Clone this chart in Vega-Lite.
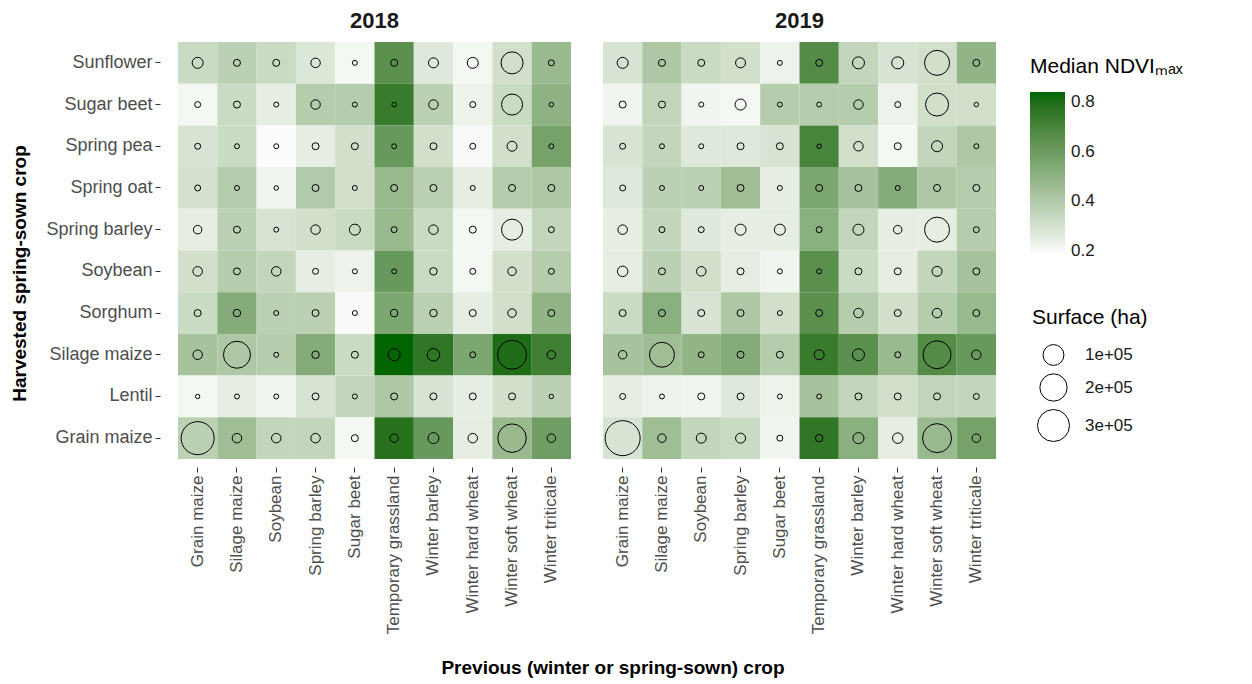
{
"$schema": "https://vega.github.io/schema/vega-lite/v6.json",
"background": "white",
"padding": {"left": 10, "top": 10, "right": 5, "bottom": 5},
"data": {"values": [
{"year":"2018","harvested":"Sunflower","previous":"Grain maize","ndvi":0.33,"surface":17800},
{"year":"2018","harvested":"Sunflower","previous":"Silage maize","ndvi":0.37,"surface":4200},
{"year":"2018","harvested":"Sunflower","previous":"Soybean","ndvi":0.33,"surface":4200},
{"year":"2018","harvested":"Sunflower","previous":"Spring barley","ndvi":0.28,"surface":11500},
{"year":"2018","harvested":"Sunflower","previous":"Sugar beet","ndvi":0.21,"surface":800},
{"year":"2018","harvested":"Sunflower","previous":"Temporary grassland","ndvi":0.65,"surface":4200},
{"year":"2018","harvested":"Sunflower","previous":"Winter barley","ndvi":0.27,"surface":13400},
{"year":"2018","harvested":"Sunflower","previous":"Winter hard wheat","ndvi":0.21,"surface":17800},
{"year":"2018","harvested":"Sunflower","previous":"Winter soft wheat","ndvi":0.31,"surface":115000},
{"year":"2018","harvested":"Sunflower","previous":"Winter triticale","ndvi":0.47,"surface":2200},
{"year":"2018","harvested":"Sugar beet","previous":"Grain maize","ndvi":0.21,"surface":2200},
{"year":"2018","harvested":"Sugar beet","previous":"Silage maize","ndvi":0.33,"surface":4200},
{"year":"2018","harvested":"Sugar beet","previous":"Soybean","ndvi":0.25,"surface":800},
{"year":"2018","harvested":"Sugar beet","previous":"Spring barley","ndvi":0.39,"surface":11500},
{"year":"2018","harvested":"Sugar beet","previous":"Sugar beet","ndvi":0.39,"surface":800},
{"year":"2018","harvested":"Sugar beet","previous":"Temporary grassland","ndvi":0.74,"surface":320},
{"year":"2018","harvested":"Sugar beet","previous":"Winter barley","ndvi":0.37,"surface":11500},
{"year":"2018","harvested":"Sugar beet","previous":"Winter hard wheat","ndvi":0.23,"surface":2200},
{"year":"2018","harvested":"Sugar beet","previous":"Winter soft wheat","ndvi":0.33,"surface":102000},
{"year":"2018","harvested":"Sugar beet","previous":"Winter triticale","ndvi":0.50,"surface":320},
{"year":"2018","harvested":"Spring pea","previous":"Grain maize","ndvi":0.29,"surface":2200},
{"year":"2018","harvested":"Spring pea","previous":"Silage maize","ndvi":0.33,"surface":800},
{"year":"2018","harvested":"Spring pea","previous":"Soybean","ndvi":0.19,"surface":800},
{"year":"2018","harvested":"Spring pea","previous":"Spring barley","ndvi":0.25,"surface":4200},
{"year":"2018","harvested":"Spring pea","previous":"Sugar beet","ndvi":0.31,"surface":4200},
{"year":"2018","harvested":"Spring pea","previous":"Temporary grassland","ndvi":0.61,"surface":800},
{"year":"2018","harvested":"Spring pea","previous":"Winter barley","ndvi":0.31,"surface":4200},
{"year":"2018","harvested":"Spring pea","previous":"Winter hard wheat","ndvi":0.20,"surface":2200},
{"year":"2018","harvested":"Spring pea","previous":"Winter soft wheat","ndvi":0.31,"surface":13400},
{"year":"2018","harvested":"Spring pea","previous":"Winter triticale","ndvi":0.57,"surface":800},
{"year":"2018","harvested":"Spring oat","previous":"Grain maize","ndvi":0.30,"surface":2200},
{"year":"2018","harvested":"Spring oat","previous":"Silage maize","ndvi":0.39,"surface":800},
{"year":"2018","harvested":"Spring oat","previous":"Soybean","ndvi":0.22,"surface":320},
{"year":"2018","harvested":"Spring oat","previous":"Spring barley","ndvi":0.40,"surface":4200},
{"year":"2018","harvested":"Spring oat","previous":"Sugar beet","ndvi":0.31,"surface":800},
{"year":"2018","harvested":"Spring oat","previous":"Temporary grassland","ndvi":0.47,"surface":4200},
{"year":"2018","harvested":"Spring oat","previous":"Winter barley","ndvi":0.37,"surface":4200},
{"year":"2018","harvested":"Spring oat","previous":"Winter hard wheat","ndvi":0.25,"surface":800},
{"year":"2018","harvested":"Spring oat","previous":"Winter soft wheat","ndvi":0.39,"surface":4200},
{"year":"2018","harvested":"Spring oat","previous":"Winter triticale","ndvi":0.41,"surface":4200},
{"year":"2018","harvested":"Spring barley","previous":"Grain maize","ndvi":0.25,"surface":8100},
{"year":"2018","harvested":"Spring barley","previous":"Silage maize","ndvi":0.37,"surface":4200},
{"year":"2018","harvested":"Spring barley","previous":"Soybean","ndvi":0.29,"surface":800},
{"year":"2018","harvested":"Spring barley","previous":"Spring barley","ndvi":0.31,"surface":11500},
{"year":"2018","harvested":"Spring barley","previous":"Sugar beet","ndvi":0.33,"surface":17800},
{"year":"2018","harvested":"Spring barley","previous":"Temporary grassland","ndvi":0.47,"surface":2200},
{"year":"2018","harvested":"Spring barley","previous":"Winter barley","ndvi":0.33,"surface":11500},
{"year":"2018","harvested":"Spring barley","previous":"Winter hard wheat","ndvi":0.21,"surface":4200},
{"year":"2018","harvested":"Spring barley","previous":"Winter soft wheat","ndvi":0.25,"surface":102000},
{"year":"2018","harvested":"Spring barley","previous":"Winter triticale","ndvi":0.35,"surface":2200},
{"year":"2018","harvested":"Soybean","previous":"Grain maize","ndvi":0.31,"surface":11500},
{"year":"2018","harvested":"Soybean","previous":"Silage maize","ndvi":0.39,"surface":4200},
{"year":"2018","harvested":"Soybean","previous":"Soybean","ndvi":0.35,"surface":11500},
{"year":"2018","harvested":"Soybean","previous":"Spring barley","ndvi":0.25,"surface":2200},
{"year":"2018","harvested":"Soybean","previous":"Sugar beet","ndvi":0.23,"surface":800},
{"year":"2018","harvested":"Soybean","previous":"Temporary grassland","ndvi":0.61,"surface":800},
{"year":"2018","harvested":"Soybean","previous":"Winter barley","ndvi":0.33,"surface":5400},
{"year":"2018","harvested":"Soybean","previous":"Winter hard wheat","ndvi":0.21,"surface":2200},
{"year":"2018","harvested":"Soybean","previous":"Winter soft wheat","ndvi":0.31,"surface":8100},
{"year":"2018","harvested":"Soybean","previous":"Winter triticale","ndvi":0.39,"surface":2200},
{"year":"2018","harvested":"Sorghum","previous":"Grain maize","ndvi":0.33,"surface":4200},
{"year":"2018","harvested":"Sorghum","previous":"Silage maize","ndvi":0.53,"surface":5400},
{"year":"2018","harvested":"Sorghum","previous":"Soybean","ndvi":0.37,"surface":800},
{"year":"2018","harvested":"Sorghum","previous":"Spring barley","ndvi":0.37,"surface":4200},
{"year":"2018","harvested":"Sorghum","previous":"Sugar beet","ndvi":0.20,"surface":800},
{"year":"2018","harvested":"Sorghum","previous":"Temporary grassland","ndvi":0.55,"surface":5400},
{"year":"2018","harvested":"Sorghum","previous":"Winter barley","ndvi":0.37,"surface":5400},
{"year":"2018","harvested":"Sorghum","previous":"Winter hard wheat","ndvi":0.25,"surface":4200},
{"year":"2018","harvested":"Sorghum","previous":"Winter soft wheat","ndvi":0.31,"surface":8100},
{"year":"2018","harvested":"Sorghum","previous":"Winter triticale","ndvi":0.49,"surface":4200},
{"year":"2018","harvested":"Silage maize","previous":"Grain maize","ndvi":0.43,"surface":11500},
{"year":"2018","harvested":"Silage maize","previous":"Silage maize","ndvi":0.41,"surface":195000},
{"year":"2018","harvested":"Silage maize","previous":"Soybean","ndvi":0.39,"surface":800},
{"year":"2018","harvested":"Silage maize","previous":"Spring barley","ndvi":0.53,"surface":5400},
{"year":"2018","harvested":"Silage maize","previous":"Sugar beet","ndvi":0.33,"surface":4200},
{"year":"2018","harvested":"Silage maize","previous":"Temporary grassland","ndvi":0.84,"surface":22800},
{"year":"2018","harvested":"Silage maize","previous":"Winter barley","ndvi":0.76,"surface":25500},
{"year":"2018","harvested":"Silage maize","previous":"Winter hard wheat","ndvi":0.55,"surface":2200},
{"year":"2018","harvested":"Silage maize","previous":"Winter soft wheat","ndvi":0.80,"surface":234000},
{"year":"2018","harvested":"Silage maize","previous":"Winter triticale","ndvi":0.72,"surface":8100},
{"year":"2018","harvested":"Lentil","previous":"Grain maize","ndvi":0.21,"surface":200},
{"year":"2018","harvested":"Lentil","previous":"Silage maize","ndvi":0.25,"surface":800},
{"year":"2018","harvested":"Lentil","previous":"Soybean","ndvi":0.22,"surface":800},
{"year":"2018","harvested":"Lentil","previous":"Spring barley","ndvi":0.29,"surface":4200},
{"year":"2018","harvested":"Lentil","previous":"Sugar beet","ndvi":0.35,"surface":800},
{"year":"2018","harvested":"Lentil","previous":"Temporary grassland","ndvi":0.41,"surface":4200},
{"year":"2018","harvested":"Lentil","previous":"Winter barley","ndvi":0.29,"surface":4200},
{"year":"2018","harvested":"Lentil","previous":"Winter hard wheat","ndvi":0.25,"surface":4200},
{"year":"2018","harvested":"Lentil","previous":"Winter soft wheat","ndvi":0.31,"surface":4200},
{"year":"2018","harvested":"Lentil","previous":"Winter triticale","ndvi":0.37,"surface":320},
{"year":"2018","harvested":"Grain maize","previous":"Grain maize","ndvi":0.37,"surface":325000},
{"year":"2018","harvested":"Grain maize","previous":"Silage maize","ndvi":0.45,"surface":11500},
{"year":"2018","harvested":"Grain maize","previous":"Soybean","ndvi":0.35,"surface":11500},
{"year":"2018","harvested":"Grain maize","previous":"Spring barley","ndvi":0.35,"surface":11500},
{"year":"2018","harvested":"Grain maize","previous":"Sugar beet","ndvi":0.21,"surface":4200},
{"year":"2018","harvested":"Grain maize","previous":"Temporary grassland","ndvi":0.78,"surface":8100},
{"year":"2018","harvested":"Grain maize","previous":"Winter barley","ndvi":0.61,"surface":17800},
{"year":"2018","harvested":"Grain maize","previous":"Winter hard wheat","ndvi":0.25,"surface":11500},
{"year":"2018","harvested":"Grain maize","previous":"Winter soft wheat","ndvi":0.47,"surface":223000},
{"year":"2018","harvested":"Grain maize","previous":"Winter triticale","ndvi":0.59,"surface":8100},
{"year":"2019","harvested":"Sunflower","previous":"Grain maize","ndvi":0.29,"surface":17800},
{"year":"2019","harvested":"Sunflower","previous":"Silage maize","ndvi":0.41,"surface":4200},
{"year":"2019","harvested":"Sunflower","previous":"Soybean","ndvi":0.33,"surface":4200},
{"year":"2019","harvested":"Sunflower","previous":"Spring barley","ndvi":0.31,"surface":13400},
{"year":"2019","harvested":"Sunflower","previous":"Sugar beet","ndvi":0.23,"surface":800},
{"year":"2019","harvested":"Sunflower","previous":"Temporary grassland","ndvi":0.67,"surface":4200},
{"year":"2019","harvested":"Sunflower","previous":"Winter barley","ndvi":0.35,"surface":22800},
{"year":"2019","harvested":"Sunflower","previous":"Winter hard wheat","ndvi":0.29,"surface":22800},
{"year":"2019","harvested":"Sunflower","previous":"Winter soft wheat","ndvi":0.31,"surface":160000},
{"year":"2019","harvested":"Sunflower","previous":"Winter triticale","ndvi":0.49,"surface":4200},
{"year":"2019","harvested":"Sugar beet","previous":"Grain maize","ndvi":0.22,"surface":4200},
{"year":"2019","harvested":"Sugar beet","previous":"Silage maize","ndvi":0.35,"surface":4200},
{"year":"2019","harvested":"Sugar beet","previous":"Soybean","ndvi":0.22,"surface":800},
{"year":"2019","harvested":"Sugar beet","previous":"Spring barley","ndvi":0.21,"surface":17800},
{"year":"2019","harvested":"Sugar beet","previous":"Sugar beet","ndvi":0.39,"surface":800},
{"year":"2019","harvested":"Sugar beet","previous":"Temporary grassland","ndvi":0.39,"surface":800},
{"year":"2019","harvested":"Sugar beet","previous":"Winter barley","ndvi":0.39,"surface":11500},
{"year":"2019","harvested":"Sugar beet","previous":"Winter hard wheat","ndvi":0.23,"surface":2200},
{"year":"2019","harvested":"Sugar beet","previous":"Winter soft wheat","ndvi":0.31,"surface":129000},
{"year":"2019","harvested":"Sugar beet","previous":"Winter triticale","ndvi":0.31,"surface":320},
{"year":"2019","harvested":"Spring pea","previous":"Grain maize","ndvi":0.29,"surface":2200},
{"year":"2019","harvested":"Spring pea","previous":"Silage maize","ndvi":0.35,"surface":800},
{"year":"2019","harvested":"Spring pea","previous":"Soybean","ndvi":0.27,"surface":800},
{"year":"2019","harvested":"Spring pea","previous":"Spring barley","ndvi":0.27,"surface":4200},
{"year":"2019","harvested":"Spring pea","previous":"Sugar beet","ndvi":0.29,"surface":4200},
{"year":"2019","harvested":"Spring pea","previous":"Temporary grassland","ndvi":0.70,"surface":320},
{"year":"2019","harvested":"Spring pea","previous":"Winter barley","ndvi":0.31,"surface":11500},
{"year":"2019","harvested":"Spring pea","previous":"Winter hard wheat","ndvi":0.21,"surface":4200},
{"year":"2019","harvested":"Spring pea","previous":"Winter soft wheat","ndvi":0.35,"surface":17800},
{"year":"2019","harvested":"Spring pea","previous":"Winter triticale","ndvi":0.41,"surface":800},
{"year":"2019","harvested":"Spring oat","previous":"Grain maize","ndvi":0.27,"surface":2200},
{"year":"2019","harvested":"Spring oat","previous":"Silage maize","ndvi":0.37,"surface":800},
{"year":"2019","harvested":"Spring oat","previous":"Soybean","ndvi":0.37,"surface":800},
{"year":"2019","harvested":"Spring oat","previous":"Spring barley","ndvi":0.45,"surface":4200},
{"year":"2019","harvested":"Spring oat","previous":"Sugar beet","ndvi":0.25,"surface":800},
{"year":"2019","harvested":"Spring oat","previous":"Temporary grassland","ndvi":0.55,"surface":4200},
{"year":"2019","harvested":"Spring oat","previous":"Winter barley","ndvi":0.43,"surface":4200},
{"year":"2019","harvested":"Spring oat","previous":"Winter hard wheat","ndvi":0.53,"surface":800},
{"year":"2019","harvested":"Spring oat","previous":"Winter soft wheat","ndvi":0.41,"surface":4200},
{"year":"2019","harvested":"Spring oat","previous":"Winter triticale","ndvi":0.39,"surface":4200},
{"year":"2019","harvested":"Spring barley","previous":"Grain maize","ndvi":0.25,"surface":11500},
{"year":"2019","harvested":"Spring barley","previous":"Silage maize","ndvi":0.35,"surface":2200},
{"year":"2019","harvested":"Spring barley","previous":"Soybean","ndvi":0.27,"surface":2200},
{"year":"2019","harvested":"Spring barley","previous":"Spring barley","ndvi":0.25,"surface":17800},
{"year":"2019","harvested":"Spring barley","previous":"Sugar beet","ndvi":0.25,"surface":17800},
{"year":"2019","harvested":"Spring barley","previous":"Temporary grassland","ndvi":0.51,"surface":2200},
{"year":"2019","harvested":"Spring barley","previous":"Winter barley","ndvi":0.35,"surface":17800},
{"year":"2019","harvested":"Spring barley","previous":"Winter hard wheat","ndvi":0.25,"surface":8100},
{"year":"2019","harvested":"Spring barley","previous":"Winter soft wheat","ndvi":0.25,"surface":160000},
{"year":"2019","harvested":"Spring barley","previous":"Winter triticale","ndvi":0.39,"surface":2200},
{"year":"2019","harvested":"Soybean","previous":"Grain maize","ndvi":0.25,"surface":15500},
{"year":"2019","harvested":"Soybean","previous":"Silage maize","ndvi":0.37,"surface":4200},
{"year":"2019","harvested":"Soybean","previous":"Soybean","ndvi":0.31,"surface":11500},
{"year":"2019","harvested":"Soybean","previous":"Spring barley","ndvi":0.25,"surface":4200},
{"year":"2019","harvested":"Soybean","previous":"Sugar beet","ndvi":0.22,"surface":800},
{"year":"2019","harvested":"Soybean","previous":"Temporary grassland","ndvi":0.65,"surface":800},
{"year":"2019","harvested":"Soybean","previous":"Winter barley","ndvi":0.33,"surface":4200},
{"year":"2019","harvested":"Soybean","previous":"Winter hard wheat","ndvi":0.25,"surface":4200},
{"year":"2019","harvested":"Soybean","previous":"Winter soft wheat","ndvi":0.35,"surface":13400},
{"year":"2019","harvested":"Soybean","previous":"Winter triticale","ndvi":0.43,"surface":4200},
{"year":"2019","harvested":"Sorghum","previous":"Grain maize","ndvi":0.33,"surface":4200},
{"year":"2019","harvested":"Sorghum","previous":"Silage maize","ndvi":0.51,"surface":4200},
{"year":"2019","harvested":"Sorghum","previous":"Soybean","ndvi":0.29,"surface":4200},
{"year":"2019","harvested":"Sorghum","previous":"Spring barley","ndvi":0.41,"surface":4200},
{"year":"2019","harvested":"Sorghum","previous":"Sugar beet","ndvi":0.31,"surface":800},
{"year":"2019","harvested":"Sorghum","previous":"Temporary grassland","ndvi":0.65,"surface":4200},
{"year":"2019","harvested":"Sorghum","previous":"Winter barley","ndvi":0.39,"surface":11500},
{"year":"2019","harvested":"Sorghum","previous":"Winter hard wheat","ndvi":0.31,"surface":4200},
{"year":"2019","harvested":"Sorghum","previous":"Winter soft wheat","ndvi":0.39,"surface":11500},
{"year":"2019","harvested":"Sorghum","previous":"Winter triticale","ndvi":0.47,"surface":4200},
{"year":"2019","harvested":"Silage maize","previous":"Grain maize","ndvi":0.43,"surface":8100},
{"year":"2019","harvested":"Silage maize","previous":"Silage maize","ndvi":0.45,"surface":160000},
{"year":"2019","harvested":"Silage maize","previous":"Soybean","ndvi":0.49,"surface":2200},
{"year":"2019","harvested":"Silage maize","previous":"Spring barley","ndvi":0.53,"surface":4200},
{"year":"2019","harvested":"Silage maize","previous":"Sugar beet","ndvi":0.39,"surface":4200},
{"year":"2019","harvested":"Silage maize","previous":"Temporary grassland","ndvi":0.74,"surface":13400},
{"year":"2019","harvested":"Silage maize","previous":"Winter barley","ndvi":0.65,"surface":22800},
{"year":"2019","harvested":"Silage maize","previous":"Winter hard wheat","ndvi":0.47,"surface":2200},
{"year":"2019","harvested":"Silage maize","previous":"Winter soft wheat","ndvi":0.67,"surface":213000},
{"year":"2019","harvested":"Silage maize","previous":"Winter triticale","ndvi":0.61,"surface":11500},
{"year":"2019","harvested":"Lentil","previous":"Grain maize","ndvi":0.25,"surface":2200},
{"year":"2019","harvested":"Lentil","previous":"Silage maize","ndvi":0.23,"surface":800},
{"year":"2019","harvested":"Lentil","previous":"Soybean","ndvi":0.22,"surface":4200},
{"year":"2019","harvested":"Lentil","previous":"Spring barley","ndvi":0.27,"surface":4200},
{"year":"2019","harvested":"Lentil","previous":"Sugar beet","ndvi":0.23,"surface":800},
{"year":"2019","harvested":"Lentil","previous":"Temporary grassland","ndvi":0.43,"surface":800},
{"year":"2019","harvested":"Lentil","previous":"Winter barley","ndvi":0.35,"surface":4200},
{"year":"2019","harvested":"Lentil","previous":"Winter hard wheat","ndvi":0.31,"surface":4200},
{"year":"2019","harvested":"Lentil","previous":"Winter soft wheat","ndvi":0.35,"surface":4200},
{"year":"2019","harvested":"Lentil","previous":"Winter triticale","ndvi":0.35,"surface":2200},
{"year":"2019","harvested":"Grain maize","previous":"Grain maize","ndvi":0.29,"surface":377000},
{"year":"2019","harvested":"Grain maize","previous":"Silage maize","ndvi":0.45,"surface":8100},
{"year":"2019","harvested":"Grain maize","previous":"Soybean","ndvi":0.35,"surface":13400},
{"year":"2019","harvested":"Grain maize","previous":"Spring barley","ndvi":0.33,"surface":13400},
{"year":"2019","harvested":"Grain maize","previous":"Sugar beet","ndvi":0.22,"surface":2200},
{"year":"2019","harvested":"Grain maize","previous":"Temporary grassland","ndvi":0.76,"surface":5400},
{"year":"2019","harvested":"Grain maize","previous":"Winter barley","ndvi":0.51,"surface":17800},
{"year":"2019","harvested":"Grain maize","previous":"Winter hard wheat","ndvi":0.25,"surface":15500},
{"year":"2019","harvested":"Grain maize","previous":"Winter soft wheat","ndvi":0.47,"surface":234000},
{"year":"2019","harvested":"Grain maize","previous":"Winter triticale","ndvi":0.57,"surface":8100}
]},
"facet": {"column": {"field": "year", "type": "ordinal", "header": {"title": null, "labelFontSize": 22, "labelFontWeight": "bold", "labelColor": "#1a1a1a", "labelFont": "Liberation Sans", "labelPadding": 9}}},
"spacing": {"column": 32},
"spec": {
  "width": 393,
  "height": 417,
  "encoding": {
    "x": {"field": "previous", "type": "nominal",
      "sort": ["Grain maize","Silage maize","Soybean","Spring barley","Sugar beet","Temporary grassland","Winter barley","Winter hard wheat","Winter soft wheat","Winter triticale"],
      "scale": {"paddingInner": 0, "paddingOuter": 0},
      "axis": {"title": null, "labelAngle": -90, "labelFontSize": 17, "labelColor": "#4d4d4d", "labelFont": "Liberation Sans", "tickSize": 5, "tickColor": "#333333", "offset": 8, "labelPadding": 3, "domain": false, "grid": false}},
    "y": {"field": "harvested", "type": "nominal",
      "sort": ["Sunflower","Sugar beet","Spring pea","Spring oat","Spring barley","Soybean","Sorghum","Silage maize","Lentil","Grain maize"],
      "scale": {"paddingInner": 0, "paddingOuter": 0},
      "axis": {"title": "Harvested spring-sown crop", "titleFontSize": 19, "titleFontWeight": "bold", "titleColor": "#000000", "titleFont": "Liberation Sans", "titleY": 231, "titlePadding": 16, "labelFontSize": 18, "labelColor": "#4d4d4d", "labelFont": "Liberation Sans", "tickSize": 5, "tickColor": "#333333", "offset": 18, "labelPadding": 3, "domain": false, "grid": false}}
  },
  "layer": [
    {"mark": {"type": "rect"},
     "encoding": {"color": {"field": "ndvi", "type": "quantitative",
        "scale": {"domain": [0.18, 0.84], "range": ["#ffffff", "#006400"], "interpolate": "lab"},
        "legend": {"title": "Median NDVIₘₐₓ", "values": [0.2, 0.4, 0.6, 0.8], "gradientLength": 164, "gradientThickness": 35, "titleFontSize": 21, "titleFontWeight": "normal", "titleColor": "#000000", "labelFontSize": 17, "labelColor": "#1a1a1a", "titlePadding": 15, "labelOffset": 6, "padding": 14, "offset": 20}}}},
    {"mark": {"type": "point", "shape": "circle", "filled": false, "stroke": "#000000", "strokeWidth": 1, "opacity": 1},
     "encoding": {"size": {"field": "surface", "type": "quantitative",
        "scale": {"type": "pow", "exponent": 0.8, "domain": [0, 350000], "range": [16, 1156]},
        "legend": {"title": "Surface (ha)", "orient": "none", "legendX": 854, "legendY": 265, "values": [100000, 200000, 300000], "labelExpr": "replace(format(datum.value, '.0e'), '+', '+0')", "titleFontSize": 21, "titleFontWeight": "normal", "titleColor": "#000000", "labelFontSize": 17, "labelColor": "#1a1a1a", "symbolStrokeColor": "#000000", "symbolStrokeWidth": 1, "symbolFillColor": "transparent", "symbolOffset": 5, "rowPadding": 3, "labelOffset": 15, "titlePadding": 16, "padding": 0}}}}
  ]
},
"title": {"text": "Previous (winter or spring-sown) crop", "orient": "bottom", "anchor": "middle", "fontSize": 19, "fontWeight": "bold", "color": "#000000", "font": "Liberation Sans", "offset": 25, "dx": 9},
"config": {
  "font": "Liberation Sans",
  "view": {"stroke": null},
  "legend": {"titleFont": "Liberation Sans", "labelFont": "Liberation Sans"}
}
}
